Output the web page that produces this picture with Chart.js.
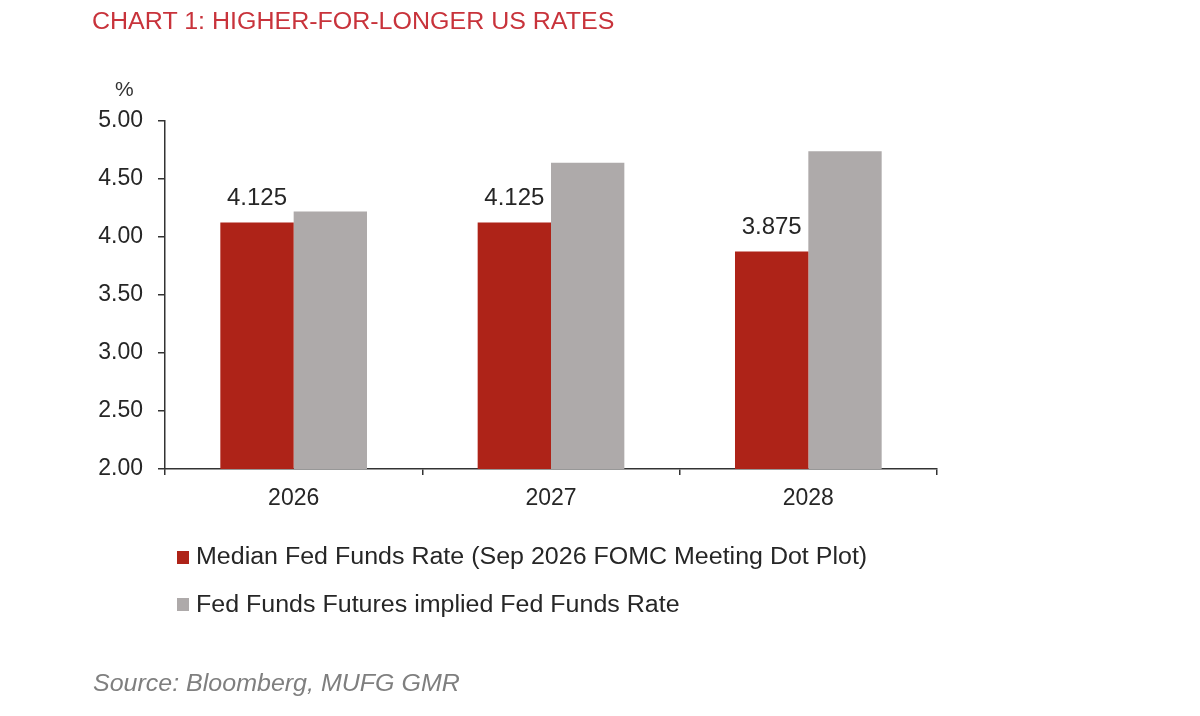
<!DOCTYPE html>
<html lang="en">
<head>
    <meta charset="UTF-8">
    <title>Chart 1: Higher-for-longer US rates</title>
    <style>
        body {
            margin: 0;
            background: #ffffff;
            font-family: "Liberation Sans", Arial, sans-serif;
        }
        .wrap {
            position: relative;
            width: 1200px;
            height: 716px;
            overflow: hidden;
        }
        #chart {
            position: absolute;
            left: 0;
            top: 0;
        }
        .txt {
            position: absolute;
            line-height: 1;
            white-space: nowrap;
            transform-origin: 0 0;
            transform: scaleX(1.087);
        }
        .title {
            left: 92px;
            top: 10px;
            font-size: 23px;
            color: #c8333b;
        }
        .unit {
            left: 115px;
            top: 78px;
            font-size: 21px;
            color: #333333;
            transform: none;
        }
        .legend-item {
            font-size: 23px;
            color: #262626;
            left: 196px;
        }
        .box {
            position: absolute;
            left: 177px;
            width: 12px;
            height: 13px;
        }
        .source {
            left: 93px;
            top: 672px;
            font-size: 23px;
            font-style: italic;
            color: #7f7f7f;
        }
    </style>
</head>
<body>
    <div class="wrap">
        <canvas id="chart" width="1200" height="716"></canvas>
        <div class="txt title">CHART 1: HIGHER-FOR-LONGER US RATES</div>
        <div class="txt unit">%</div>
        <div class="box" style="top:551px;background:#ae2318;"></div>
        <div class="txt legend-item" id="leg1" style="top:545px;"></div>
        <div class="box" style="top:598px;background:#aeaaaa;"></div>
        <div class="txt legend-item" id="leg2" style="top:593px;"></div>
        <div class="txt source">Source: Bloomberg, MUFG GMR</div>
    </div>

    <script src="https://cdn.jsdelivr.net/npm/chart.js"></script>
    <script>
        // data
        const years = ['2026', '2027', '2028'];
        const dotPlot = [4.125, 4.125, 3.875];
        const futures = [4.22, 4.64, 4.74];
        const seriesNames = [
            'Median Fed Funds Rate (Sep 2026 FOMC Meeting Dot Plot)',
            'Fed Funds Futures implied Fed Funds Rate'
        ];
        const yTicks = [2.00, 2.50, 3.00, 3.50, 4.00, 4.50, 5.00];

        document.getElementById('leg1').textContent = seriesNames[0];
        document.getElementById('leg2').textContent = seriesNames[1];

        const labelFont = '24px "Liberation Sans", Arial, sans-serif';

        // value labels above the red bars only
        const barLabels = {
            id: 'barLabels',
            afterDatasetsDraw(chart) {
                const ctx = chart.ctx;
                const meta = chart.getDatasetMeta(0);
                ctx.save();
                ctx.font = labelFont;
                ctx.fillStyle = '#262626';
                ctx.textAlign = 'center';
                ctx.textBaseline = 'alphabetic';
                meta.data.forEach((bar, i) => {
                    ctx.fillText(dotPlot[i].toFixed(3), bar.x, bar.y - 18);
                });
                ctx.restore();
            }
        };

        const ctx = document.getElementById('chart').getContext('2d');
        new Chart(ctx, {
            type: 'bar',
            data: {
                labels: years,
                datasets: [{
                    label: seriesNames[0],
                    data: dotPlot,
                    backgroundColor: '#ae2318',
                    borderWidth: 0
                }, {
                    label: seriesNames[1],
                    data: futures,
                    backgroundColor: '#aeaaaa',
                    borderWidth: 0
                }]
            },
            options: {
                responsive: false,
                animation: false,
                devicePixelRatio: 1,
                categoryPercentage: 0.57,
                barPercentage: 1.0,
                layout: {
                    padding: { top: 121, right: 263, bottom: 0, left: 0 }
                },
                plugins: {
                    legend: { display: false },
                    tooltip: { enabled: false }
                },
                scales: {
                    x: {
                        grid: {
                            offset: true,
                            drawOnChartArea: false,
                            drawTicks: true,
                            tickLength: 6,
                            color: '#333333',
                            lineWidth: 1.5
                        },
                        border: { color: '#333333', width: 1.5 },
                        ticks: {
                            color: '#262626',
                            font: { family: '"Liberation Sans", Arial, sans-serif', size: 23 },
                            padding: 10
                        },
                        afterFit(scale) { scale.height = 247; }
                    },
                    y: {
                        min: 2,
                        max: 5,
                        afterBuildTicks(scale) {
                            scale.ticks = yTicks.map(v => ({ value: v }));
                        },
                        grid: {
                            drawOnChartArea: false,
                            drawTicks: true,
                            tickLength: 7,
                            color: '#333333',
                            lineWidth: 1.5
                        },
                        border: { color: '#333333', width: 1.5 },
                        ticks: {
                            color: '#262626',
                            font: { family: '"Liberation Sans", Arial, sans-serif', size: 23 },
                            padding: 15,
                            callback: v => Number(v).toFixed(2)
                        },
                        afterFit(scale) { scale.width = 165; }
                    }
                }
            },
            plugins: [barLabels]
        });
    </script>
</body>
</html>
